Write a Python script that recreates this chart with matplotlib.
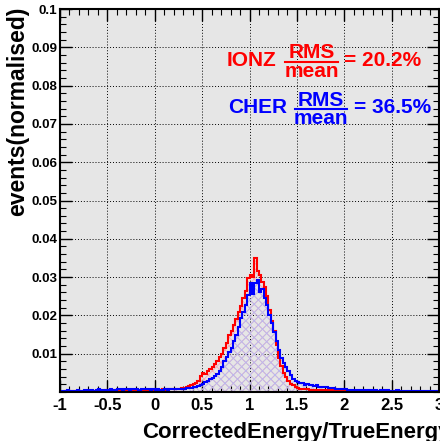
import numpy as np
import matplotlib
matplotlib.use("Agg")
import matplotlib.pyplot as plt
from matplotlib.ticker import MultipleLocator, FixedLocator, FixedFormatter
from matplotlib.lines import Line2D

plt.rcParams['font.family'] = ['Liberation Sans', 'DejaVu Sans']
plt.rcParams['font.weight'] = 'bold'
plt.rcParams['hatch.linewidth'] = 0.6

# Histogram binning: 160 bins of width 0.025 between -1 and 3
x_low, x_high, n_bins = -1.0, 3.0, 160

# IONZ (ionisation) normalised counts
ionz_tail_low = [
    0.0001, 0.0001, 0.0002, 0.0001, 0.0002, 0.0001, 0.0002, 0.0002, 0.0001, 0.0002,
    0.0002, 0.0002, 0.0003, 0.0002, 0.0002, 0.0003, 0.0002, 0.0003, 0.0003, 0.0004,
    0.0003, 0.0004, 0.0005, 0.0004, 0.0003, 0.0005, 0.0006, 0.0005, 0.0004, 0.0006,
    0.0005, 0.0006, 0.0005, 0.0004, 0.0005, 0.0006, 0.0005, 0.0004, 0.0005, 0.0006,
    0.0005, 0.0006, 0.0006, 0.0007, 0.0006, 0.0007, 0.0008, 0.0007, 0.0008, 0.0009,
    0.0009, 0.0010]
ionz_core = [
    0.0011, 0.0013, 0.0016, 0.0018, 0.0020, 0.0024, 0.0030, 0.0042, 0.0050, 0.0046,
    0.0054, 0.0060, 0.0066, 0.0074, 0.0082, 0.0092, 0.0100, 0.0116, 0.0128, 0.0148,
    0.0158, 0.0176, 0.0190, 0.0208, 0.0224, 0.0246, 0.0264, 0.0298, 0.0306, 0.0300,
    0.0350, 0.0316, 0.0305, 0.0288, 0.0274, 0.0250, 0.0214, 0.0186, 0.0160, 0.0122,
    0.0088, 0.0068, 0.0050, 0.0040, 0.0029, 0.0022, 0.0017, 0.0013, 0.0010, 0.0009,
    0.0008, 0.0007, 0.0007, 0.0006, 0.0006, 0.0005, 0.0006, 0.0005, 0.0005, 0.0004,
    0.0005, 0.0004, 0.0004, 0.0004, 0.0003, 0.0004, 0.0003, 0.0003]
ionz_tail_high = [
    0.0003, 0.0003, 0.0002, 0.0003, 0.0002, 0.0002, 0.0002, 0.0002, 0.0001, 0.0002,
    0.0002, 0.0001, 0.0002, 0.0001, 0.0001, 0.0002, 0.0001, 0.0001, 0.0001, 0.0001,
    0.0001, 0.0001, 0.0001, 0.0001, 0.0001, 0.0001, 0.0001, 0.0001, 0.0001, 0.0001,
    0.0001, 0.0001, 0.0001, 0.0001, 0.0001, 0.0001, 0.0001, 0.0001, 0.0001, 0.0001]

# CHER (Cherenkov) normalised counts
cher_tail_low = [
    0.0003, 0.0002, 0.0003, 0.0004, 0.0003, 0.0002, 0.0003, 0.0004, 0.0003, 0.0003,
    0.0004, 0.0003, 0.0005, 0.0004, 0.0003, 0.0004, 0.0008, 0.0005, 0.0004, 0.0006,
    0.0005, 0.0007, 0.0006, 0.0005, 0.0007, 0.0008, 0.0006, 0.0009, 0.0007, 0.0006,
    0.0008, 0.0007, 0.0009, 0.0006, 0.0008, 0.0007, 0.0009, 0.0008, 0.0006, 0.0007,
    0.0006, 0.0007, 0.0005, 0.0006, 0.0007, 0.0006, 0.0007, 0.0008, 0.0007, 0.0008,
    0.0008, 0.0009]
cher_core = [
    0.0009, 0.0010, 0.0010, 0.0011, 0.0012, 0.0014, 0.0016, 0.0018, 0.0020, 0.0025,
    0.0030, 0.0034, 0.0037, 0.0042, 0.0048, 0.0055, 0.0064, 0.0080, 0.0092, 0.0104,
    0.0115, 0.0134, 0.0150, 0.0170, 0.0194, 0.0210, 0.0226, 0.0254, 0.0284, 0.0256,
    0.0285, 0.0292, 0.0262, 0.0268, 0.0246, 0.0228, 0.0200, 0.0180, 0.0156, 0.0134,
    0.0110, 0.0090, 0.0076, 0.0064, 0.0054, 0.0044, 0.0035, 0.0030, 0.0026, 0.0023,
    0.0024, 0.0019, 0.0021, 0.0018, 0.0019, 0.0016, 0.0017, 0.0014, 0.0014, 0.0012,
    0.0013, 0.0011, 0.0010, 0.0010, 0.0009, 0.0008, 0.0008, 0.0007]
cher_tail_high = [
    0.0007, 0.0006, 0.0006, 0.0005, 0.0006, 0.0005, 0.0005, 0.0004, 0.0005, 0.0004,
    0.0004, 0.0005, 0.0004, 0.0004, 0.0003, 0.0004, 0.0004, 0.0003, 0.0004, 0.0003,
    0.0003, 0.0003, 0.0004, 0.0003, 0.0003, 0.0002, 0.0003, 0.0003, 0.0002, 0.0003,
    0.0002, 0.0002, 0.0003, 0.0002, 0.0002, 0.0002, 0.0002, 0.0002, 0.0002, 0.0002]

x_tick_values = [-1, -0.5, 0, 0.5, 1, 1.5, 2, 2.5, 3]
x_tick_labels = ['-1', '-0.5', '0', '0.5', '1', '1.5', '2', '2.5', '3']
y_tick_values = [0.01, 0.02, 0.03, 0.04, 0.05, 0.06, 0.07, 0.08, 0.09, 0.1]
y_tick_labels = ['0.01', '0.02', '0.03', '0.04', '0.05', '0.06', '0.07', '0.08', '0.09', '0.1']

ionz_label, ionz_value = 'IONZ', '= 20.2%'
cher_label, cher_value = 'CHER', '= 36.5%'

edges = np.linspace(x_low, x_high, n_bins + 1)
ionz = np.array(ionz_tail_low + ionz_core + ionz_tail_high)
cher = np.array(cher_tail_low + cher_core + cher_tail_high)

W, H = 440, 441
fig = plt.figure(figsize=(W / 100, H / 100), dpi=100)
ax = fig.add_axes([60 / W, 49 / H, 379 / W, 383 / H])
ax.set_facecolor('#e6e6e6')


def px(x, y):
    return x / W, 1 - y / H


# hatched fills under the histograms
ax.stairs(ionz, edges, fill=True, facecolor='none', edgecolor='#f4a8b8',
          hatch='xxxx', linewidth=0, zorder=2)
ax.stairs(cher, edges, fill=True, facecolor='none', edgecolor='#b8b8f0',
          hatch='xxxx', linewidth=0, zorder=2)
ax.stairs(ionz, edges, color='#ff0000', linewidth=1.5, zorder=3)
ax.stairs(cher, edges, color='#0000ff', linewidth=1.5, zorder=4)

ax.set_xlim(x_low, x_high)
ax.set_ylim(0, 0.1)
ax.xaxis.set_major_locator(FixedLocator(x_tick_values))
ax.xaxis.set_major_formatter(FixedFormatter(x_tick_labels))
ax.yaxis.set_major_locator(FixedLocator(y_tick_values))
ax.yaxis.set_major_formatter(FixedFormatter(y_tick_labels))
ax.xaxis.set_minor_locator(MultipleLocator(0.1))
ax.yaxis.set_minor_locator(MultipleLocator(0.002))
ax.tick_params(which='both', direction='in', top=True, right=True, color='black')
ax.tick_params(which='major', length=8.6, width=1.0)
ax.tick_params(which='minor', length=4.3, width=0.8)
ax.tick_params(axis='x', labelsize=12, pad=4)
ax.tick_params(axis='y', labelsize=9.6, pad=2)
for lab in ax.get_xticklabels() + ax.get_yticklabels():
    lab.set_fontweight('bold')
ax.grid(True, which='major', color='black', linestyle=(0, (1, 2)), linewidth=0.7, zorder=1)
ax.set_axisbelow(True)
for sp in ax.spines.values():
    sp.set_linewidth(1.5)
    sp.set_zorder(5)

fig.text(*px(18, 111), 'events(normalised)', rotation=90, ha='center', va='center',
         fontsize=16.5, fontweight='bold')
fig.text(*px(142, 438), 'CorrectedEnergy/TrueEnergy', ha='left', va='baseline',
         fontsize=16, fontweight='bold')

# RMS/mean annotations
for label, value, col, base_y, bar_y, num_y, den_y, x0, xf0, xf1, xv in [
        (ionz_label, ionz_value, '#ff0000', 66, 62, 58, 77, 227, 285, 338, 344),
        (cher_label, cher_value, '#0000ff', 113, 109, 106, 124, 228, 295, 347, 354)]:
    fig.text(*px(x0, base_y), label, color=col, fontsize=15, fontweight='bold',
             ha='left', va='baseline')
    xc = (xf0 + xf1) / 2
    fig.text(*px(xc, num_y), 'RMS', color=col, fontsize=15, fontweight='bold',
             ha='center', va='baseline')
    fig.text(*px(xc, den_y), 'mean', color=col, fontsize=15, fontweight='bold',
             ha='center', va='baseline')
    fig.add_artist(Line2D([xf0 / W, xf1 / W], [1 - bar_y / H] * 2, color=col,
                          linewidth=1.5, transform=fig.transFigure))
    fig.text(*px(xv, base_y), value, color=col, fontsize=15, fontweight='bold',
             ha='left', va='baseline')

fig.savefig('out.png', dpi=100)
